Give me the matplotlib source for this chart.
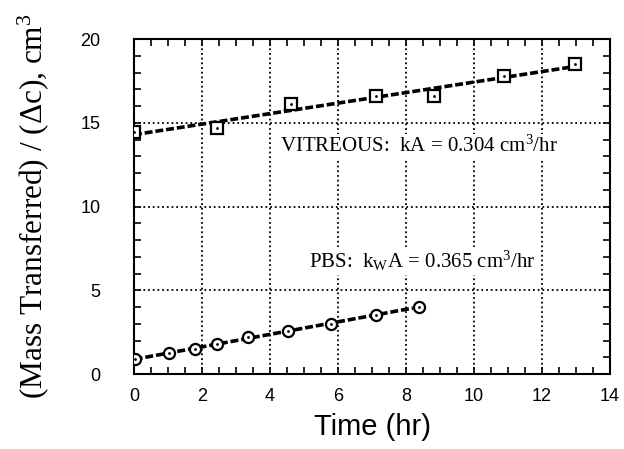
import matplotlib.pyplot as plt
import numpy as np
from matplotlib.ticker import MultipleLocator

# vitreous humour data (squares)
vit_time = [0.0, 2.43, 4.62, 7.12, 8.81, 10.87, 12.98]
vit_mass = [14.45, 14.7, 16.1, 16.6, 16.6, 17.8, 18.5]

# PBS data (circles)
pbs_time = [0.02, 1.02, 1.79, 2.43, 3.34, 4.52, 5.78, 7.11, 8.39]
pbs_mass = [0.88, 1.25, 1.49, 1.8, 2.2, 2.55, 3.0, 3.55, 4.0]

serif = 'Liberation Serif'
sans = 'Liberation Sans'
plt.rcParams['mathtext.fontset'] = 'custom'
plt.rcParams['mathtext.rm'] = serif
plt.rcParams['mathtext.it'] = serif + ':italic'

fig = plt.figure(figsize=(6.24, 4.49), dpi=100)
ax = fig.add_axes([0.2147, 0.167, 0.763, 0.746])


def plot_series(x, y, marker, x_end):
    # least squares line through the points, dashed like the original
    slope, icpt = np.polyfit(x, y, 1)
    xf = np.array([x[0], x_end])
    ax.plot(xf, icpt + slope * xf, color='black', lw=2.6,
            dashes=(2.2, 0.8), solid_capstyle='butt', zorder=3)
    ax.plot(x, y, linestyle='none', marker=marker, ms=8, mfc='white',
            mec='black', mew=1.6, zorder=4)
    ax.plot(x, y, linestyle='none', marker='.', ms=2, color='black', zorder=5)


plot_series(vit_time, vit_mass, 's', 12.8)
plot_series(pbs_time, pbs_mass, 'o', 8.2)

ax.set_xlim(0, 14)
ax.set_ylim(0, 20)
ax.xaxis.set_major_locator(MultipleLocator(2))
ax.xaxis.set_minor_locator(MultipleLocator(0.5))
ax.yaxis.set_major_locator(MultipleLocator(5))
ax.yaxis.set_minor_locator(MultipleLocator(1))
ax.tick_params(which='both', direction='in', top=True, right=True,
               length=5, width=1.2, labelsize=13, pad=10)
for lbl in ax.get_xticklabels() + ax.get_yticklabels():
    lbl.set_fontfamily(sans)
ax.tick_params(axis='y', pad=24)
for s in ax.spines.values():
    s.set_linewidth(1.5)

ax.grid(True, which='major', color='black', linestyle=(0, (1, 1.6)), lw=1.3)
ax.set_axisbelow(True)

ax.text(4.28, 13.6, 'VITREOUS:  kA = 0.304 cm$^3$/hr', family=serif,
        fontsize=15, va='center', ha='left', zorder=2,
        bbox=dict(facecolor='white', edgecolor='none', pad=1))
ax.text(5.14, 6.75, 'PBS:  k$_\\mathrm{W}$A = 0.365 cm$^3$/hr', family=serif,
        fontsize=15, va='center', ha='left', zorder=2,
        bbox=dict(facecolor='white', edgecolor='none', pad=1))

ax.set_xlabel('Time (hr)', family=sans, fontsize=21, labelpad=6)
ax.set_ylabel('(Mass Transferred) / ($\\Delta$c), cm$^3$', family=serif,
              fontsize=22.5, labelpad=21)

fig.savefig('out.png', dpi=100)
